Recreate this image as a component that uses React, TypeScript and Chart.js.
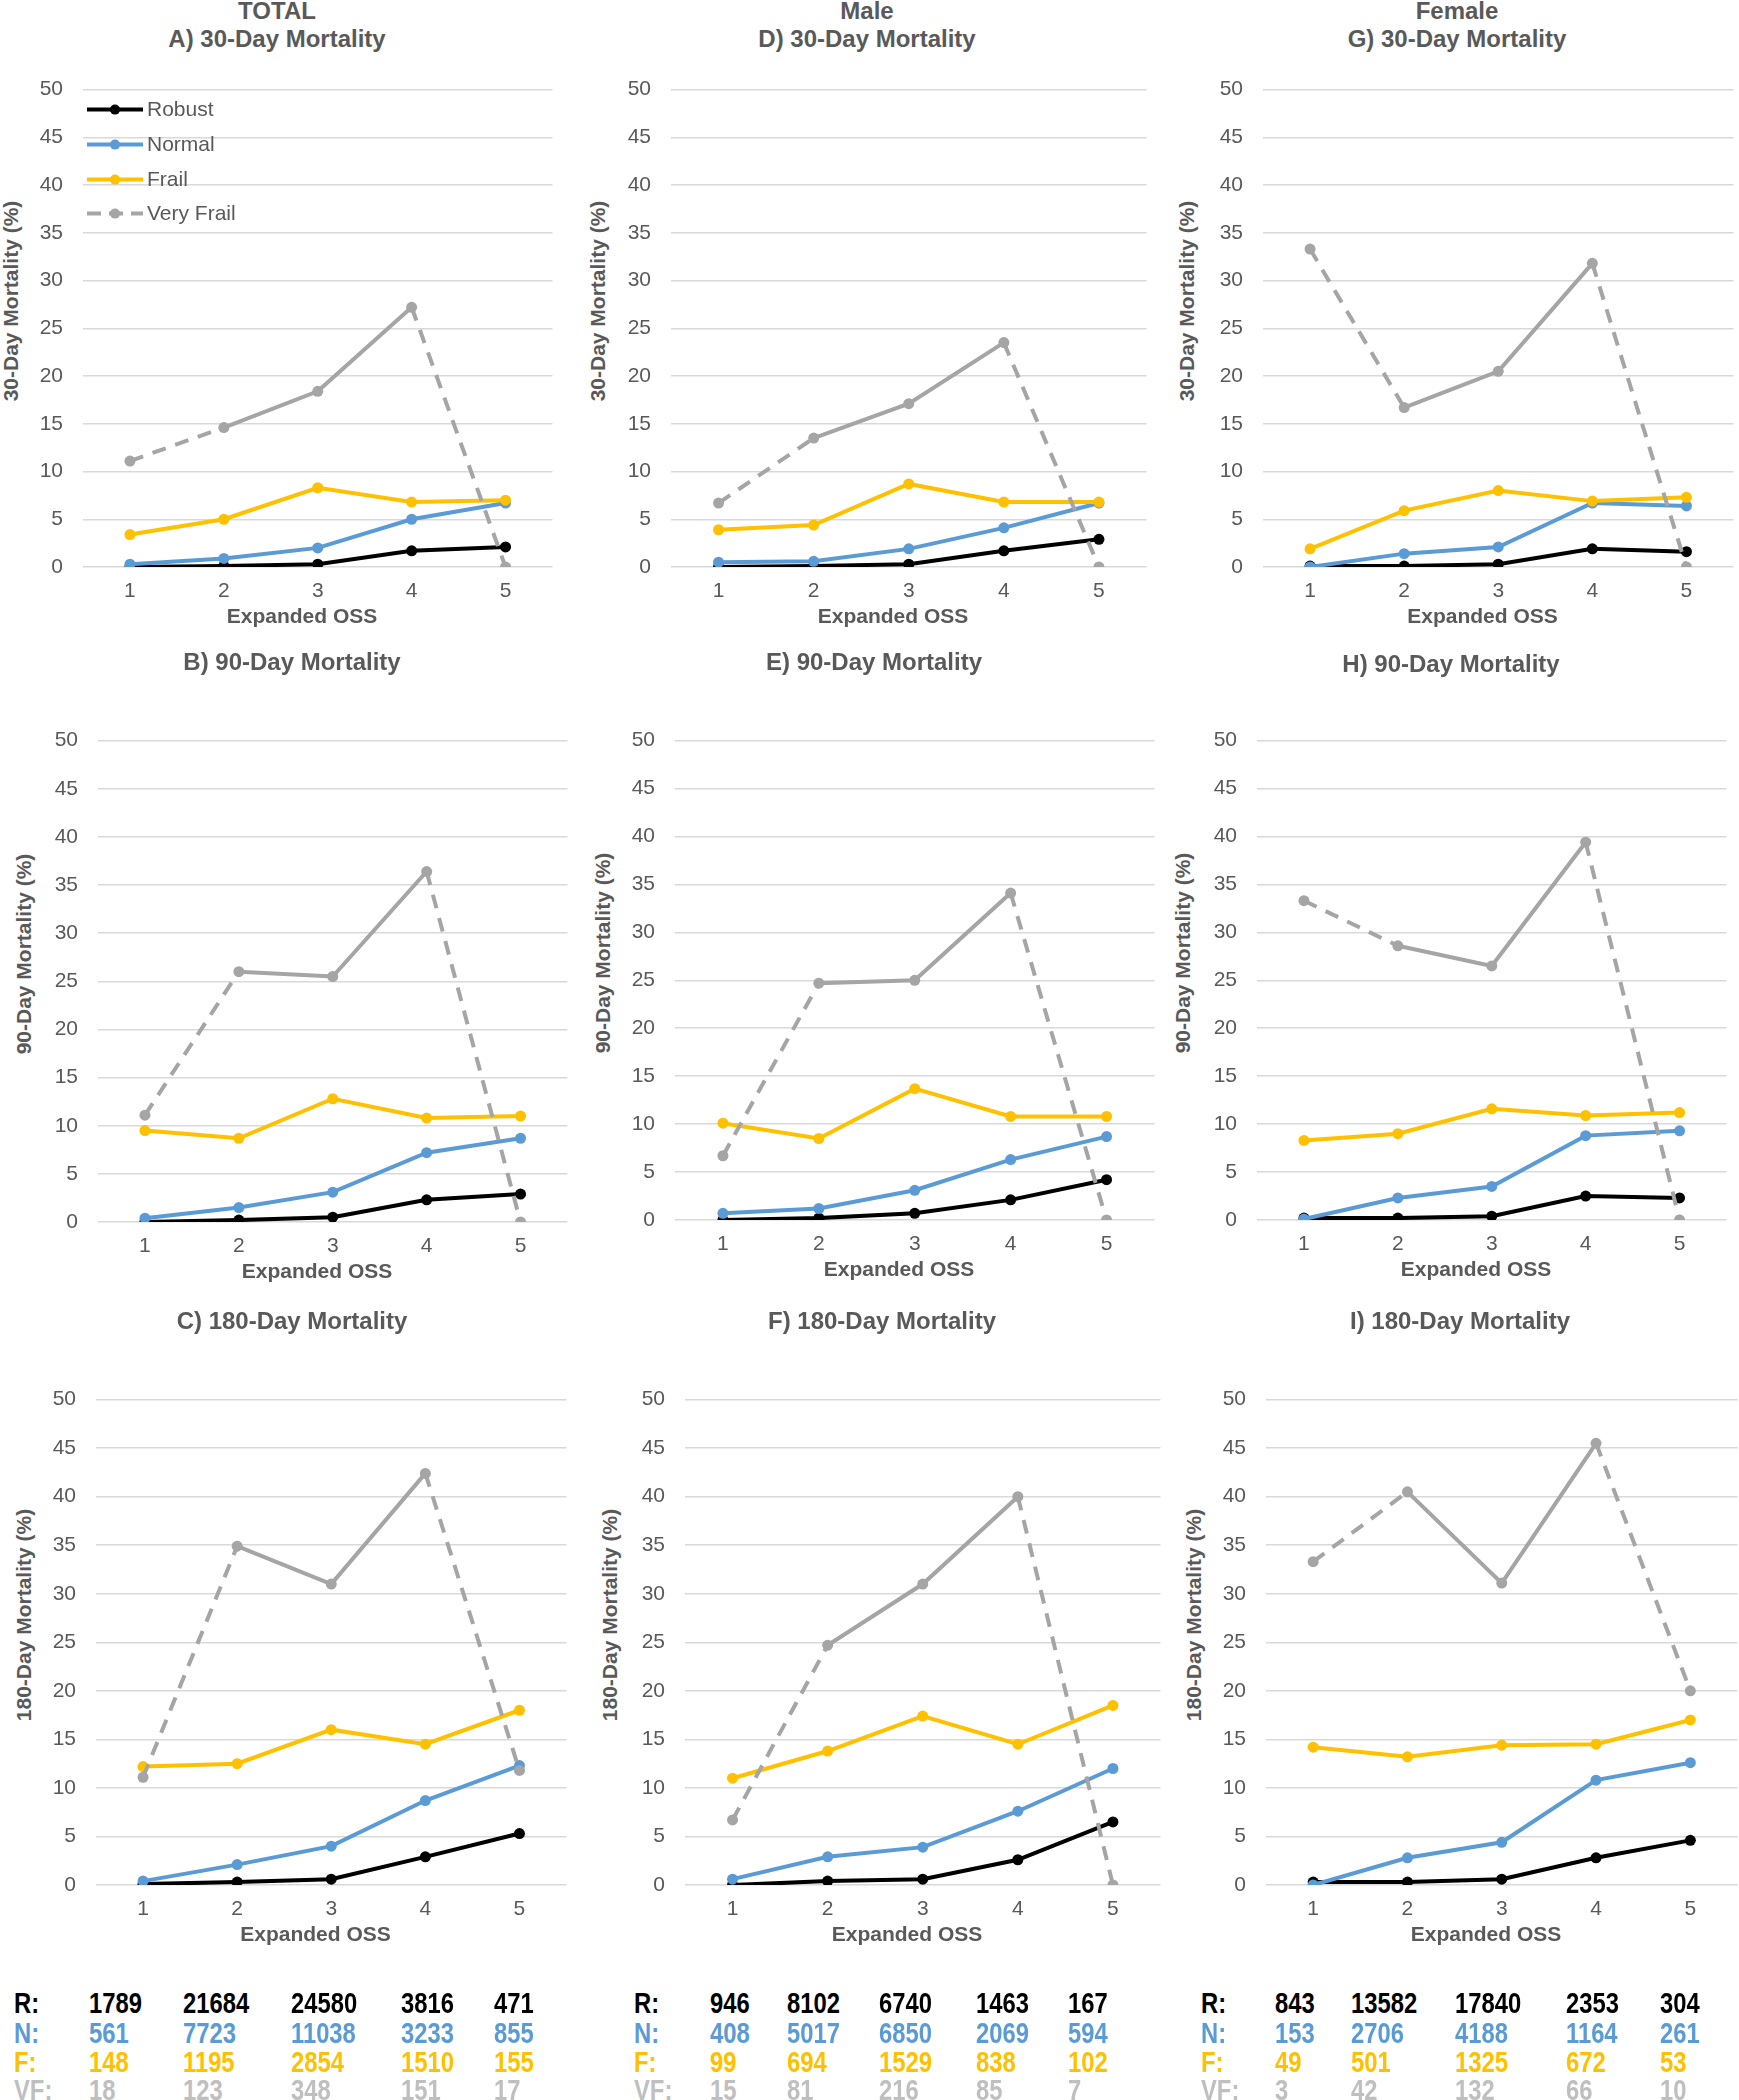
import React, { useEffect, useRef } from 'react';
import { Chart, registerables } from 'chart.js';

Chart.register(...registerables);

// ---------------- DATA ----------------
const categories = ['1', '2', '3', '4', '5'];
const seriesNames = ['Robust', 'Normal', 'Frail', 'Very Frail'];
const xAxisTitle = 'Expanded OSS';
const yAxisMin = 0;
const yAxisMax = 50;
const yAxisStep = 5;
// Very Frail segments (starting index) drawn dashed
const veryFrailDashedSegments = [0, 3];

// TOTAL
const robust30Total = [0.0, 0.1, 0.3, 1.7, 2.1];
const normal30Total = [0.3, 0.9, 2.0, 5.0, 6.7];
const frail30Total = [3.4, 5.0, 8.3, 6.8, 7.0];
const veryFrail30Total = [11.1, 14.6, 18.4, 27.2, 0.0];

const robust90Total = [0.0, 0.2, 0.5, 2.3, 2.9];
const normal90Total = [0.4, 1.5, 3.1, 7.2, 8.7];
const frail90Total = [9.5, 8.7, 12.8, 10.8, 11.0];
const veryFrail90Total = [11.1, 26.0, 25.5, 36.4, 0.0];

const robust180Total = [0.1, 0.3, 0.6, 2.9, 5.3];
const normal180Total = [0.4, 2.1, 4.0, 8.7, 12.3];
const frail180Total = [12.2, 12.5, 16.0, 14.5, 18.0];
const veryFrail180Total = [11.1, 34.9, 31.0, 42.4, 11.8];

// Male
const robust30Male = [0.0, 0.1, 0.3, 1.7, 2.9];
const normal30Male = [0.5, 0.6, 1.9, 4.1, 6.7];
const frail30Male = [3.9, 4.4, 8.7, 6.8, 6.8];
const veryFrail30Male = [6.7, 13.5, 17.1, 23.5, 0.0];

const robust90Male = [0.0, 0.2, 0.7, 2.1, 4.2];
const normal90Male = [0.7, 1.2, 3.1, 6.3, 8.7];
const frail90Male = [10.1, 8.5, 13.7, 10.8, 10.8];
const veryFrail90Male = [6.7, 24.7, 25.0, 34.1, 0.0];

const robust180Male = [0.0, 0.4, 0.6, 2.6, 6.5];
const normal180Male = [0.6, 2.9, 3.9, 7.6, 12.0];
const frail180Male = [11.0, 13.8, 17.4, 14.5, 18.5];
const veryFrail180Male = [6.7, 24.7, 31.0, 40.0, 0.0];

// Female
const robust30Female = [0.1, 0.1, 0.3, 1.9, 1.6];
const normal30Female = [0.0, 1.4, 2.1, 6.7, 6.4];
const frail30Female = [1.9, 5.9, 8.0, 6.9, 7.3];
const veryFrail30Female = [33.3, 16.7, 20.5, 31.8, 0.0];

const robust90Female = [0.2, 0.2, 0.4, 2.5, 2.3];
const normal90Female = [0.1, 2.3, 3.5, 8.8, 9.3];
const frail90Female = [8.3, 9.0, 11.6, 10.9, 11.2];
const veryFrail90Female = [33.3, 28.6, 26.5, 39.4, 0.0];

const robust180Female = [0.3, 0.3, 0.6, 2.8, 4.6];
const normal180Female = [0.0, 2.8, 4.4, 10.8, 12.6];
const frail180Female = [14.2, 13.2, 14.4, 14.5, 17.0];
const veryFrail180Female = [33.3, 40.5, 31.1, 45.5, 20.0];

// Counts table
const tableRowLabels = ['R:', 'N:', 'F:', 'VF:'];
const countsRTotal = [1789, 21684, 24580, 3816, 471];
const countsNTotal = [561, 7723, 11038, 3233, 855];
const countsFTotal = [148, 1195, 2854, 1510, 155];
const countsVFTotal = [18, 123, 348, 151, 17];
const countsRMale = [946, 8102, 6740, 1463, 167];
const countsNMale = [408, 5017, 6850, 2069, 594];
const countsFMale = [99, 694, 1529, 838, 102];
const countsVFMale = [15, 81, 216, 85, 7];
const countsRFemale = [843, 13582, 17840, 2353, 304];
const countsNFemale = [153, 2706, 4188, 1164, 261];
const countsFFemale = [49, 501, 1325, 672, 53];
const countsVFFemale = [3, 42, 132, 66, 10];

// ---------------- STYLE ----------------
const FONT = "'Liberation Sans', Arial, sans-serif";
const TEXT_COLOR = '#595959';
const GRID_COLOR = '#D9D9D9';
const seriesColors = ['#000000', '#5B9BD5', '#FFC000', '#A5A5A5'];
const tableColors = ['#000000', '#5B9BD5', '#FFC000', '#BFBFBF'];

const YW = 60;
const XH = 60;
const PAD_B = 4;
const TOP_GUESS = 32;

type PanelDef = {
  key: string;
  L: number; R: number; T: number; B: number;
  title: string[]; titleX: number; titleY: number[];
  yTitle: string; yTitleX: number;
  series: number[][];
  legend?: boolean;
};

const panels: PanelDef[] = [
  { key: 'A', L: 83, R: 553, T: 90, B: 568, title: ['TOTAL', 'A) 30-Day Mortality'], titleX: 277, titleY: [11, 39],
    yTitle: '30-Day Mortality (%)', yTitleX: 11, series: [robust30Total, normal30Total, frail30Total, veryFrail30Total], legend: true },
  { key: 'B', L: 98, R: 568, T: 741, B: 1223, title: ['B) 90-Day Mortality'], titleX: 292, titleY: [662],
    yTitle: '90-Day Mortality (%)', yTitleX: 24, series: [robust90Total, normal90Total, frail90Total, veryFrail90Total] },
  { key: 'C', L: 96, R: 567, T: 1400, B: 1886, title: ['C) 180-Day Mortality'], titleX: 292, titleY: [1321],
    yTitle: '180-Day Mortality (%)', yTitleX: 24, series: [robust180Total, normal180Total, frail180Total, veryFrail180Total] },
  { key: 'D', L: 671, R: 1147, T: 90, B: 568, title: ['Male', 'D) 30-Day Mortality'], titleX: 867, titleY: [11, 39],
    yTitle: '30-Day Mortality (%)', yTitleX: 598, series: [robust30Male, normal30Male, frail30Male, veryFrail30Male] },
  { key: 'E', L: 675, R: 1155, T: 741, B: 1221, title: ['E) 90-Day Mortality'], titleX: 874, titleY: [662],
    yTitle: '90-Day Mortality (%)', yTitleX: 603, series: [robust90Male, normal90Male, frail90Male, veryFrail90Male] },
  { key: 'F', L: 685, R: 1161, T: 1400, B: 1886, title: ['F) 180-Day Mortality'], titleX: 882, titleY: [1321],
    yTitle: '180-Day Mortality (%)', yTitleX: 610, series: [robust180Male, normal180Male, frail180Male, veryFrail180Male] },
  { key: 'G', L: 1263, R: 1734, T: 90, B: 568, title: ['Female', 'G) 30-Day Mortality'], titleX: 1457, titleY: [11, 39],
    yTitle: '30-Day Mortality (%)', yTitleX: 1187, series: [robust30Female, normal30Female, frail30Female, veryFrail30Female] },
  { key: 'H', L: 1257, R: 1727, T: 741, B: 1221, title: ['H) 90-Day Mortality'], titleX: 1451, titleY: [664],
    yTitle: '90-Day Mortality (%)', yTitleX: 1183, series: [robust90Female, normal90Female, frail90Female, veryFrail90Female] },
  { key: 'I', L: 1266, R: 1738, T: 1400, B: 1886, title: ['I) 180-Day Mortality'], titleX: 1460, titleY: [1321],
    yTitle: '180-Day Mortality (%)', yTitleX: 1194, series: [robust180Female, normal180Female, frail180Female, veryFrail180Female] },
];

const tableGroups = [
  { labelX: 14, colX: [89, 183, 291, 401, 494], rows: [countsRTotal, countsNTotal, countsFTotal, countsVFTotal] },
  { labelX: 634, colX: [710, 787, 879, 976, 1068], rows: [countsRMale, countsNMale, countsFMale, countsVFMale] },
  { labelX: 1201, colX: [1275, 1351, 1455, 1566, 1660], rows: [countsRFemale, countsNFemale, countsFFemale, countsVFFemale] },
];
const tableRowY = [2003, 2033, 2062, 2090];

// legend geometry (page coords, panel A)
const legendGeom = { x1: 87, x2: 143, textX: 147, rows: [110, 145, 180, 214] };

function makeLegendPlugin(geom: { left: number; top: number }) {
  return {
    id: 'insideLegend',
    afterDraw(chart: any) {
      const ctx = chart.ctx;
      ctx.save();
      seriesNames.forEach((name, i) => {
        const y = legendGeom.rows[i] - geom.top;
        const x1 = legendGeom.x1 - geom.left;
        const x2 = legendGeom.x2 - geom.left;
        ctx.strokeStyle = seriesColors[i];
        ctx.lineWidth = 4;
        ctx.lineCap = 'butt';
        ctx.setLineDash(i === 3 ? [14, 8] : []);
        ctx.beginPath();
        ctx.moveTo(x1, y);
        ctx.lineTo(x2, y);
        ctx.stroke();
        ctx.setLineDash([]);
        ctx.fillStyle = seriesColors[i];
        ctx.beginPath();
        ctx.arc((x1 + x2) / 2, y, 5, 0, Math.PI * 2);
        ctx.fill();
        ctx.fillStyle = TEXT_COLOR;
        ctx.font = `21px ${FONT}`;
        ctx.textBaseline = 'middle';
        ctx.textAlign = 'left';
        ctx.fillText(name, legendGeom.textX - geom.left, y + 1);
      });
      ctx.restore();
    },
  };
}

function buildChart(canvas: HTMLCanvasElement, p: PanelDef, geom: { left: number; top: number }) {
  const datasets = p.series.map((vals, i) => ({
    label: seriesNames[i],
    data: vals,
    borderColor: seriesColors[i],
    backgroundColor: seriesColors[i],
    pointBackgroundColor: seriesColors[i],
    pointBorderColor: seriesColors[i],
    pointRadius: 5.5,
    pointBorderWidth: 0,
    borderWidth: 4,
    tension: 0,
    fill: false,
    order: 3 - i,
    segment: i === 3
      ? { borderDash: (ctx: any) => (veryFrailDashedSegments.includes(ctx.p0DataIndex) ? [14, 10] : undefined) }
      : undefined,
  }));
  return new Chart(canvas, {
    type: 'line',
    data: { labels: categories, datasets },
    options: {
      animation: false,
      responsive: false,
      maintainAspectRatio: false,
      devicePixelRatio: 1,
      layout: { padding: { top: 0, right: 0, bottom: PAD_B, left: 0 } },
      plugins: {
        legend: { display: false },
        tooltip: { enabled: false },
        title: { display: false },
      },
      scales: {
        x: {
          offset: true,
          grid: { display: false, drawTicks: false },
          border: { display: false },
          ticks: { color: TEXT_COLOR, font: { family: FONT, size: 21 }, padding: 12, maxRotation: 0 },
          title: { display: false },
          afterFit: (s: any) => { s.height = XH; },
        },
        y: {
          min: yAxisMin,
          max: yAxisMax,
          ticks: { stepSize: yAxisStep, color: TEXT_COLOR, font: { family: FONT, size: 21 }, padding: 20 },
          grid: { color: GRID_COLOR, drawTicks: false, lineWidth: 1.5 },
          border: { display: false },
          afterFit: (s: any) => { s.width = YW; },
        },
      },
    } as any,
    plugins: p.legend ? [makeLegendPlugin(geom)] : [],
  });
}

function Panel({ p }: { p: PanelDef }) {
  const ref = useRef<HTMLCanvasElement | null>(null);
  const initLeft = p.L - YW;
  const initTop = p.T - TOP_GUESS;
  const initW = p.R - initLeft;
  const initH = p.B - p.T + XH + PAD_B + TOP_GUESS;

  useEffect(() => {
    const canvas = ref.current;
    if (!canvas) return;
    const geom = { left: initLeft, top: initTop };
    let w = initW;
    let h = initH;
    let chart: any = null;
    const setSize = () => {
      canvas.width = Math.round(w);
      canvas.height = Math.round(h);
      canvas.style.width = Math.round(w) + 'px';
      canvas.style.height = Math.round(h) + 'px';
    };
    for (let k = 0; k < 4; k++) {
      setSize();
      chart = buildChart(canvas, p, geom);
      const ca = chart.chartArea;
      const dw = (p.R - p.L) - (ca.right - ca.left);
      const dh = (p.B - p.T) - (ca.bottom - ca.top);
      geom.left = p.L - ca.left;
      geom.top = p.T - ca.top;
      if (Math.abs(dw) < 0.5 && Math.abs(dh) < 0.5) break;
      w += dw;
      h += dh;
      chart.destroy();
      chart = null;
    }
    if (!chart) {
      setSize();
      chart = buildChart(canvas, p, geom);
    }
    canvas.style.left = geom.left + 'px';
    canvas.style.top = geom.top + 'px';
    chart.draw();
    return () => { if (chart) chart.destroy(); };
  }, []);

  return (
    <>
      <canvas
        ref={ref}
        width={initW}
        height={initH}
        style={{ position: 'absolute', left: initLeft, top: initTop, width: initW, height: initH }}
      />
      {p.title.map((t, i) => (
        <div
          key={i}
          style={{
            position: 'absolute', left: p.titleX, top: p.titleY[i], transform: 'translate(-50%, -50%)',
            font: `bold 24px ${FONT}`, color: TEXT_COLOR, whiteSpace: 'nowrap', lineHeight: '28px',
          }}
        >{t}</div>
      ))}
      <div
        style={{
          position: 'absolute', left: p.yTitleX, top: (p.T + p.B) / 2 - 28,
          transform: 'translate(-50%, -50%) rotate(-90deg)',
          font: `bold 21px ${FONT}`, color: TEXT_COLOR, whiteSpace: 'nowrap', lineHeight: '24px',
        }}
      >{p.yTitle}</div>
      <div
        style={{
          position: 'absolute', left: (p.L + p.R) / 2 - 16, top: p.B + 48,
          transform: 'translate(-50%, -50%)',
          font: `bold 21px ${FONT}`, color: TEXT_COLOR, whiteSpace: 'nowrap', lineHeight: '24px',
        }}
      >{xAxisTitle}</div>
    </>
  );
}

const cellStyle = (x: number, y: number, color: string): React.CSSProperties => ({
  position: 'absolute', left: x, top: y - 16, font: `bold 29px ${FONT}`, lineHeight: '32px', color,
  transform: 'scaleX(0.82)', transformOrigin: '0 50%', whiteSpace: 'nowrap',
});

export default function App() {
  return (
    <div style={{ position: 'absolute', left: 0, top: 0, width: 1739, height: 2100, overflow: 'hidden', background: '#ffffff' }}>
      {panels.map((p) => <Panel key={p.key} p={p} />)}
      {tableGroups.map((g, gi) => (
        <React.Fragment key={gi}>
          {tableRowLabels.map((lab, ri) => (
            <React.Fragment key={ri}>
              <div style={cellStyle(g.labelX, tableRowY[ri], tableColors[ri])}>{lab}</div>
              {g.rows[ri].map((v, ci) => (
                <div key={ci} style={cellStyle(g.colX[ci], tableRowY[ri], tableColors[ri])}>{v}</div>
              ))}
            </React.Fragment>
          ))}
        </React.Fragment>
      ))}
    </div>
  );
}
